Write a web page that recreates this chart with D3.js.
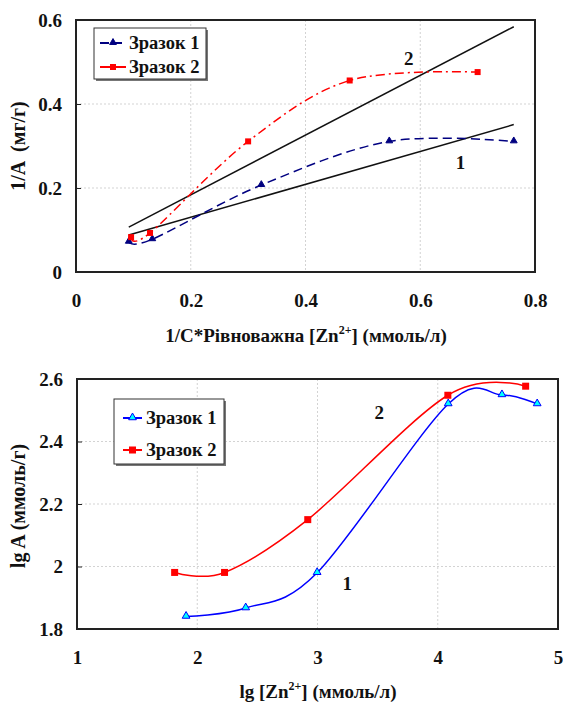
<!DOCTYPE html>
<html>
<head>
<meta charset="utf-8">
<title>Зразок 1 / Зразок 2</title>
<style>
  body { margin: 0; background: white; }
  svg text { font-family: 'Liberation Serif', 'Times New Roman', serif !important; font-weight: bold; fill: #111; }
  .grid line { stroke: #c8c8c8; stroke-width: 0.8; stroke-dasharray: 2,2; }
  .axis text { font-size: 19px; }
  .axis path { display: none; }
  .axis line { stroke: #222; }
</style>
<script src="https://d3js.org/d3.v7.min.js"></script>
</head>
<body>
<div id="chart"></div>
<script>
// top chart: 1/A vs 1/C
var top_x_ticks = [0, 0.2, 0.4, 0.6, 0.8];
var top_y_ticks = [0, 0.2, 0.4, 0.6];
var top_s1_x = [0.092, 0.133, 0.323, 0.546, 0.763];
var top_s1_y = [0.072, 0.078, 0.207, 0.311, 0.311];
var top_s2_x = [0.096, 0.129, 0.300, 0.477, 0.700];
var top_s2_y = [0.083, 0.093, 0.311, 0.456, 0.476];
// linear fits drawn in black
var top_fit1_x = [0.092, 0.763];
var top_fit1_y = [0.088, 0.351];
var top_fit2_x = [0.092, 0.763];
var top_fit2_y = [0.107, 0.584];
var top_labels = [{ t: "2", x: 0.580, y: 0.509 }, { t: "1", x: 0.670, y: 0.260 }];

// bottom chart: lg A vs lg C
var bot_x_ticks = [1, 2, 3, 4, 5];
var bot_y_ticks = [1.8, 2.0, 2.2, 2.4, 2.6];
var bot_y_tick_labels = ["1.8", "2", "2.2", "2.4", "2.6"];
var bot_s1_x = [1.907, 2.403, 2.997, 4.087, 4.534, 4.827];
var bot_s1_y = [1.840, 1.867, 1.980, 2.520, 2.549, 2.520];
var bot_s2_x = [1.812, 2.227, 2.919, 4.084, 4.731];
var bot_s2_y = [1.981, 1.981, 2.150, 2.548, 2.577];
var bot_labels = [{ t: "2", x: 3.513, y: 2.493 }, { t: "1", x: 3.248, y: 1.945 }];

var series_names = ["Зразок 1", "Зразок 2"];

var svg = d3.select("#chart").append("svg")
  .attr("width", 563)
  .attr("height", 703)
  .attr("font-family", "Liberation Serif");

function zip(xs, ys) {
  return xs.map(function(x, i) { return { x: x, y: ys[i] }; });
}

function draw_chart(cfg) {
  var x = d3.scaleLinear().domain(cfg.x_domain).range([cfg.left, cfg.right]);
  var y = d3.scaleLinear().domain(cfg.y_domain).range([cfg.bottom, cfg.top]);
  var g = svg.append("g");

  // grid
  var grid = g.append("g").attr("class", "grid");
  grid.selectAll(".gx")
      .data(cfg.x_ticks.slice(1, -1))
      .enter().append("line")
      .attr("x1", function(d) { return x(d); })
      .attr("x2", function(d) { return x(d); })
      .attr("y1", cfg.top).attr("y2", cfg.bottom);
  grid.selectAll(".gy")
      .data(cfg.y_ticks.slice(1, -1))
      .enter().append("line")
      .attr("y1", function(d) { return y(d); })
      .attr("y2", function(d) { return y(d); })
      .attr("x1", cfg.left).attr("x2", cfg.right);

  // axes
  var x_axis = d3.axisBottom(x).tickValues(cfg.x_ticks).tickSize(0).tickPadding(22)
                 .tickFormat(cfg.x_fmt);
  var y_axis = d3.axisLeft(y).tickValues(cfg.y_ticks).tickSize(-5).tickPadding(14)
                 .tickFormat(cfg.y_fmt);
  g.append("g").attr("class", "axis")
   .attr("transform", "translate(0," + cfg.bottom + ")")
   .call(x_axis)
   .attr("font-family", null).attr("font-size", null);
  g.append("g").attr("class", "axis")
   .attr("transform", "translate(" + cfg.left + ",0)")
   .call(y_axis)
   .attr("font-family", null).attr("font-size", null);

  // frame
  g.append("rect")
   .attr("x", cfg.left).attr("y", cfg.top)
   .attr("width", cfg.right - cfg.left)
   .attr("height", cfg.bottom - cfg.top)
   .attr("fill", "none")
   .attr("stroke", "#222")
   .attr("stroke-width", 2);

  var line = d3.line()
               .x(function(d) { return x(d.x); })
               .y(function(d) { return y(d.y); });
  var smooth = d3.line()
                 .x(function(d) { return x(d.x); })
                 .y(function(d) { return y(d.y); })
                 .curve(d3.curveCardinal.tension(0));

  // fit lines
  (cfg.fits || []).forEach(function(f) {
    g.append("path")
     .datum(f)
     .attr("d", line)
     .attr("fill", "none")
     .attr("stroke", "#111")
     .attr("stroke-width", 1.5);
  });

  cfg.series.forEach(function(s) {
    g.append("path")
     .datum(s.data)
     .attr("d", smooth)
     .attr("fill", "none")
     .attr("stroke", s.color)
     .attr("stroke-width", 1.5)
     .attr("stroke-dasharray", s.dash);
    draw_markers(g, s, s.data.map(function(d) { return [x(d.x), y(d.y)]; }));
  });

  // curve numbers
  g.selectAll(".num")
   .data(cfg.labels)
   .enter().append("text")
   .attr("x", function(d) { return x(d.x); })
   .attr("y", function(d) { return y(d.y); })
   .attr("text-anchor", "middle")
   .attr("dominant-baseline", "central")
   .style("font-size", "19px")
   .text(function(d) { return d.t; });

  // legend
  var L = cfg.legend;
  g.append("rect")
   .attr("x", L.x + 2).attr("y", L.y + 2)
   .attr("width", L.w).attr("height", L.h)
   .attr("fill", "#777");
  g.append("rect")
   .attr("x", L.x).attr("y", L.y)
   .attr("width", L.w).attr("height", L.h)
   .attr("fill", "white")
   .attr("stroke", "#333")
   .attr("stroke-width", 1);
  cfg.series.forEach(function(s, i) {
    var yy = L.y + L.rows[i];
    g.append("line")
     .attr("x1", L.lx1).attr("x2", L.lx2)
     .attr("y1", yy).attr("y2", yy)
     .attr("stroke", s.color)
     .attr("stroke-width", 2)
     .attr("stroke-dasharray", s.legend_dash);
    draw_markers(g, s, [[(L.lx1 + L.lx2) / 2, yy]]);
    g.append("text")
     .attr("x", L.tx).attr("y", yy)
     .attr("dominant-baseline", "central")
     .style("font-size", "18.5px")
     .text(series_names[i]);
  });

  // axis titles
  var xt = g.append("text")
            .attr("x", cfg.x_title.x).attr("y", cfg.x_title.y)
            .attr("text-anchor", "middle")
            .style("font-size", "19px");
  cfg.x_title.parts.forEach(function(p) {
    var ts = xt.append("tspan").text(p.t);
    if (p.sup) ts.attr("dy", -8).style("font-size", "12px");
    if (p.after_sup) ts.attr("dy", 8);
  });
  g.append("text")
   .attr("transform", "translate(" + cfg.y_title.x + "," + cfg.y_title.y + ") rotate(-90)")
   .attr("text-anchor", "middle")
   .attr("dominant-baseline", "central")
   .style("font-size", "20px")
   .style("white-space", "pre")
   .text(cfg.y_title.t);
}

function draw_markers(g, s, pts) {
  if (s.marker === "triangle") {
    var tri = d3.symbol().type(d3.symbolTriangle).size(s.msize);
    g.selectAll(null)
     .data(pts).enter().append("path")
     .attr("d", tri)
     .attr("transform", function(p) { return "translate(" + p[0] + "," + (p[1] - 0.5) + ")"; })
     .attr("fill", s.mfill)
     .attr("stroke", s.color)
     .attr("stroke-width", 1);
  } else {
    g.selectAll(null)
     .data(pts).enter().append("rect")
     .attr("x", function(p) { return p[0] - s.msize / 2; })
     .attr("y", function(p) { return p[1] - s.msize / 2; })
     .attr("width", s.msize).attr("height", s.msize)
     .attr("fill", s.mfill);
  }
}

draw_chart({
  x_domain: [0, 0.8], y_domain: [0, 0.6],
  left: 76, right: 535, top: 20, bottom: 272,
  x_ticks: top_x_ticks, y_ticks: top_y_ticks,
  x_fmt: function(d) { return d === 0 ? "0" : d3.format(".1f")(d); },
  y_fmt: function(d) { return d === 0 ? "0" : d3.format(".1f")(d); },
  fits: [zip(top_fit1_x, top_fit1_y), zip(top_fit2_x, top_fit2_y)],
  series: [
    { data: zip(top_s1_x, top_s1_y), color: "#000080", dash: "9,5", legend_dash: "9,4",
      marker: "triangle", mfill: "#000080", msize: 20 },
    { data: zip(top_s2_x, top_s2_y), color: "#ff0000", dash: "9,4,2,4", legend_dash: null,
      marker: "square", mfill: "#ff0000", msize: 6 }
  ],
  labels: top_labels,
  legend: { x: 94, y: 28, w: 112, h: 51, rows: [15, 39], lx1: 100, lx2: 126, tx: 129 },
  x_title: { x: 306, y: 342, parts: [{ t: "1/C*Рівноважна [Zn" }, { t: "2+", sup: true }, { t: "] (ммоль/л)", after_sup: true }] },
  y_title: { x: 18, y: 146, t: "1/A  (мг/г)" }
});

draw_chart({
  x_domain: [1, 5], y_domain: [1.8, 2.6],
  left: 77, right: 558, top: 379, bottom: 629,
  x_ticks: bot_x_ticks, y_ticks: bot_y_ticks,
  x_fmt: d3.format("d"),
  y_fmt: function(d, i) { return bot_y_tick_labels[i]; },
  fits: [],
  series: [
    { data: zip(bot_s1_x, bot_s1_y), color: "#0000ff", dash: null, legend_dash: null,
      marker: "triangle", mfill: "#00ffff", msize: 26 },
    { data: zip(bot_s2_x, bot_s2_y), color: "#ff0000", dash: null, legend_dash: null,
      marker: "square", mfill: "#ff0000", msize: 7 }
  ],
  labels: bot_labels,
  legend: { x: 114, y: 399, w: 110, h: 65, rows: [19, 51], lx1: 123, lx2: 142, tx: 146 },
  x_title: { x: 318, y: 698, parts: [{ t: "lg [Zn" }, { t: "2+", sup: true }, { t: "] (ммоль/л)", after_sup: true }] },
  y_title: { x: 18, y: 506, t: "lg A (ммоль/г)" }
});
</script>
</body>
</html>
